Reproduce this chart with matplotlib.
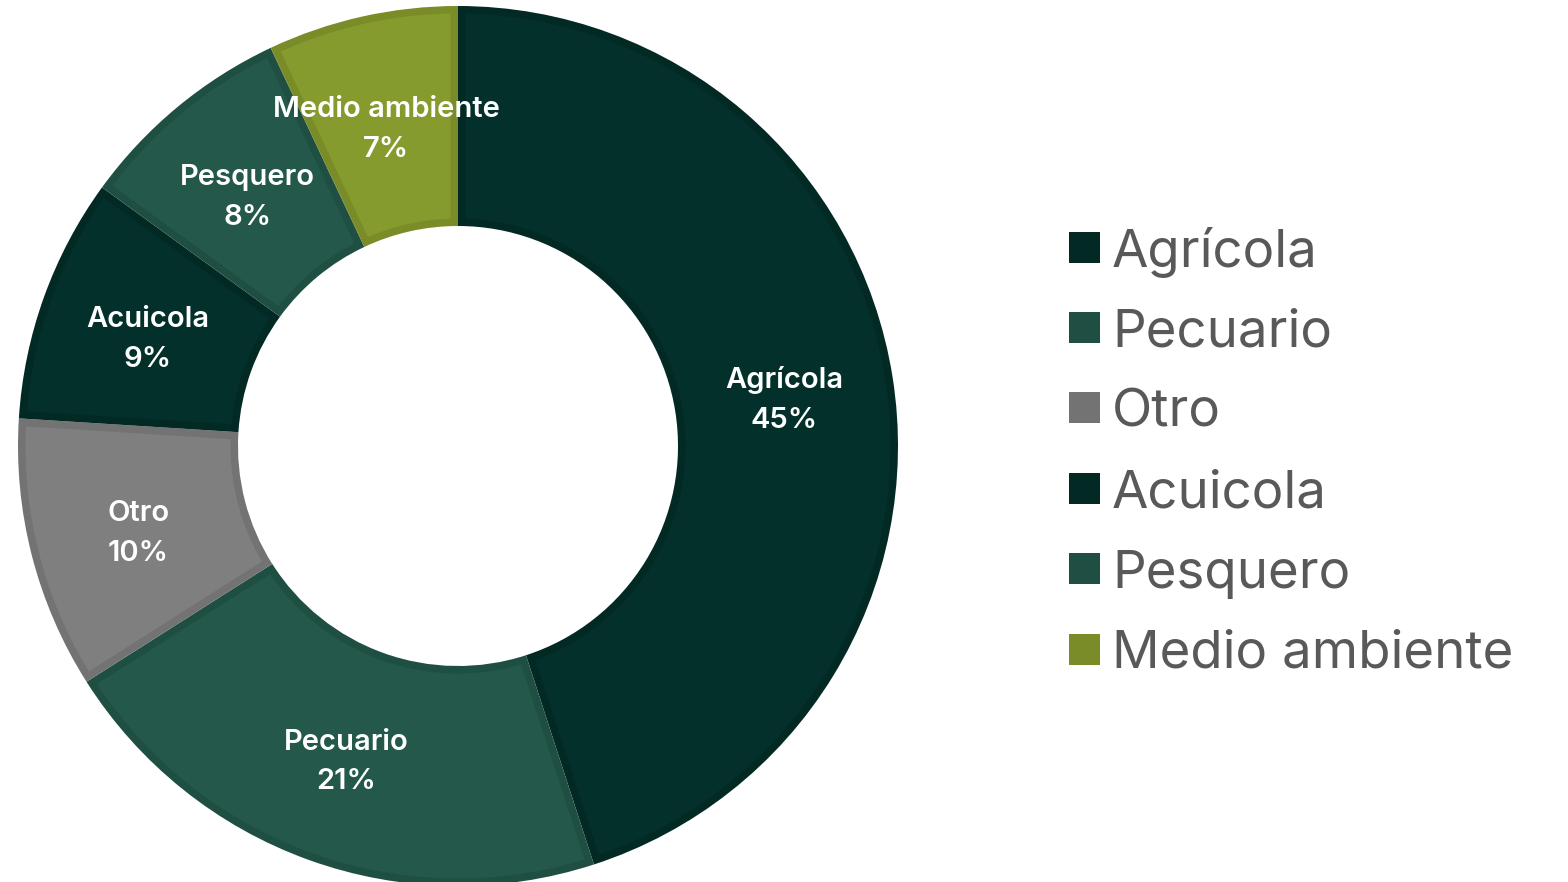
import matplotlib
matplotlib.use("Agg")
import numpy as np
import matplotlib.pyplot as plt
from matplotlib.patches import Rectangle, Polygon

# datos
sectores = ["Agrícola", "Pecuario", "Otro", "Acuicola", "Pesquero", "Medio ambiente"]
porcentajes = [45, 21, 10, 9, 8, 7]
colores = ["#03302A", "#23584B", "#7F7F7F", "#03302A", "#23584B", "#869B2E"]
bordes = ["#022923", "#1F4F43", "#737373", "#022923", "#1F4F43", "#7A8C28"]

plt.rcParams['font.family'] = ['Inter', 'DejaVu Sans']

W, H = 1568, 882
fig = plt.figure(figsize=(W / 100, H / 100), dpi=100)

cx, cy, R = 458, 446, 440
ax = fig.add_axes([(cx - R) / W, (H - cy - R) / H, 2 * R / W, 2 * R / H])

# capa de borde (pie completo) y relleno interior desplazado
wedges, _ = ax.pie(porcentajes, colors=bordes, startangle=90, counterclock=False,
                   radius=1.0, wedgeprops=dict(width=0.5, linewidth=0))

def relleno(w, d):
    r1 = w.r
    r0 = w.r - w.width
    ro, ri = r1 - d, r0 + d
    a1, a2 = np.deg2rad(w.theta1), np.deg2rad(w.theta2)
    t_out = np.linspace(a1 + np.arcsin(d / ro), a2 - np.arcsin(d / ro), 100)
    t_in = np.linspace(a2 - np.arcsin(d / ri), a1 + np.arcsin(d / ri), 100)
    xs = np.concatenate([ro * np.cos(t_out), ri * np.cos(t_in)])
    ys = np.concatenate([ro * np.sin(t_out), ri * np.sin(t_in)])
    return np.column_stack([xs, ys])

d = 7.5 / R
for w, c in zip(wedges, colores):
    ax.add_patch(Polygon(relleno(w, d), closed=True, facecolor=c, edgecolor="none"))

acum = 0
for nombre, p in zip(sectores, porcentajes):
    mid = np.deg2rad(90 - (acum + p / 2) * 3.6)
    acum += p
    ax.annotate(f"{nombre}\n{p}%", (0.75 * np.cos(mid), 0.75 * np.sin(mid)),
                xytext=(0, -4), textcoords="offset points",
                ha="center", va="center", color="white", fontsize=21,
                fontweight="semibold", linespacing=1.6)

ax.set_xlim(-1, 1)
ax.set_ylim(-1, 1)
ax.set_aspect("equal")
ax.axis("off")

# leyenda manual
y0, paso = 247, 80.4
for i, (nombre, c) in enumerate(zip(sectores, bordes)):
    y = y0 + i * paso
    fig.patches.append(Rectangle((1069 / W, (H - y - 15.5) / H), 31 / W, 31 / H,
                                 transform=fig.transFigure, facecolor=c, edgecolor="none"))
    fig.text(1112 / W, (H - y) / H, nombre, ha="left", va="center_baseline",
             color="#595959", fontsize=38)

fig.savefig("out.png", dpi=100)
